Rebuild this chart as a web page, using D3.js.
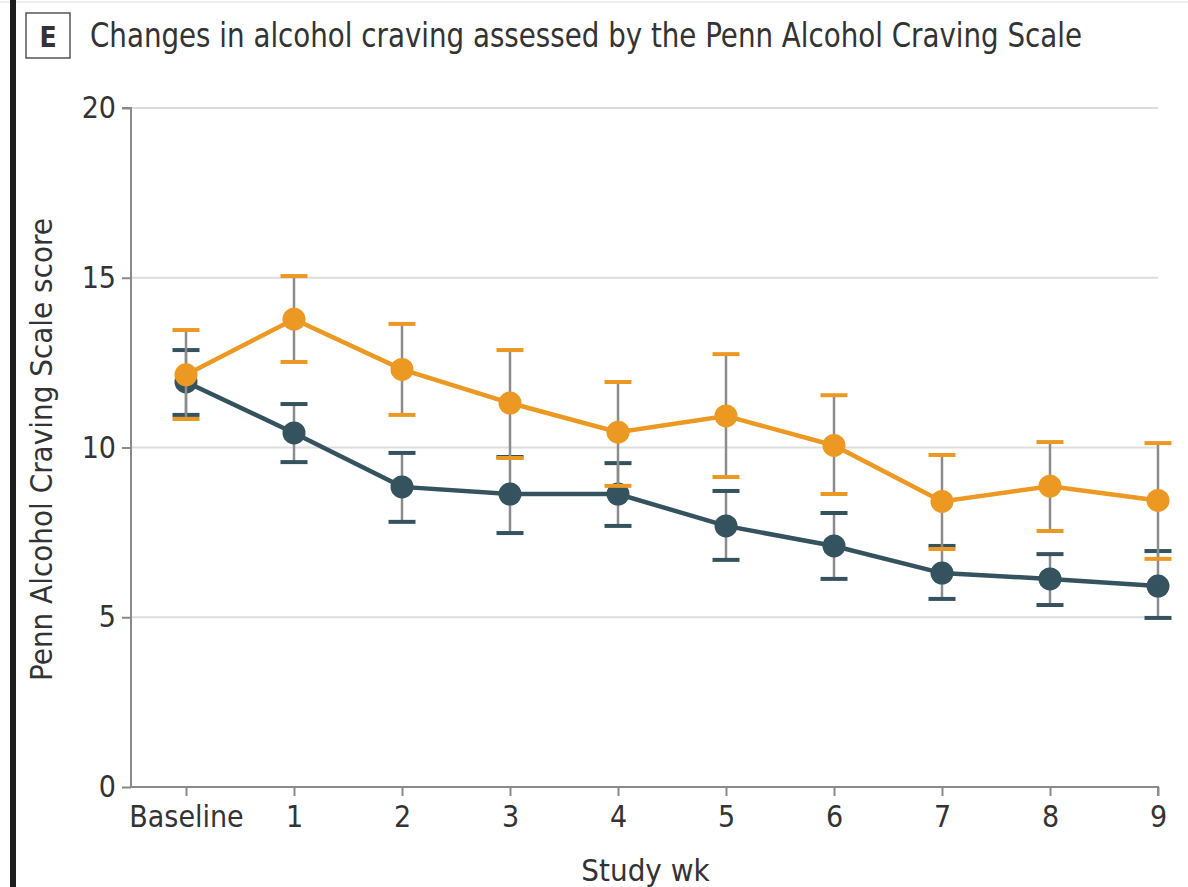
<!DOCTYPE html>
<html>
<head>
<meta charset="utf-8">
<script src="https://cdn.jsdelivr.net/npm/d3@7"></script>
<style>
  html, body { margin: 0; padding: 0; background: #fff; }
  svg text { font-family: "Liberation Sans Narrow", "DejaVu Sans Condensed", "Open Sans", sans-serif; fill: #333; }
</style>
</head>
<body>
<svg id="chart" width="1188" height="887"></svg>
<script>
// Study weeks on the x axis
const weeks = ["Baseline", "1", "2", "3", "4", "5", "6", "7", "8", "9"];

// Orange group: mean score and error bar limits
const orangeMean  = [12.14, 13.78, 12.30, 11.31, 10.45, 10.93, 10.06, 8.41, 8.86, 8.44];
const orangeUpper = [13.46, 15.05, 13.64, 12.87, 11.93, 12.75, 11.54, 9.78, 10.16, 10.13];
const orangeLower = [10.84, 12.52, 10.96, 9.69, 8.87, 9.13, 8.63, 7.01, 7.54, 6.72];

// Dark group: mean score and error bar limits
const darkMean  = [11.93, 10.43, 8.84, 8.63, 8.63, 7.69, 7.10, 6.30, 6.13, 5.92];
const darkUpper = [12.87, 11.28, 9.84, 9.72, 9.54, 8.72, 8.07, 7.10, 6.86, 6.95];
const darkLower = [10.96, 9.57, 7.81, 7.48, 7.69, 6.69, 6.13, 5.54, 5.36, 4.98];

const yTicks = [0, 5, 10, 15, 20];

const title = "Changes in alcohol craving assessed by the Penn Alcohol Craving Scale";
const panelLetter = "E";
const yLabel = "Penn Alcohol Craving Scale score";
const xLabel = "Study wk";

const svg = d3.select("#chart");

const plotLeft = 131, plotRight = 1158, plotTop = 108, plotBottom = 787;

const x = d3.scalePoint().domain(weeks).range([186, 1158]);
const y = d3.scaleLinear().domain([0, 20]).range([plotBottom, plotTop]);

// faint rule along the top and thick bar down the left edge
svg.append("line").attr("x1", 0).attr("x2", 1188).attr("y1", 2).attr("y2", 2)
  .attr("stroke", "#eeeeee").attr("stroke-width", 2);
svg.append("rect").attr("x", 10).attr("y", 0).attr("width", 6).attr("height", 887).attr("fill", "#1e1e1e");

// panel letter box and title
svg.append("rect").attr("x", 26).attr("y", 13).attr("width", 44).attr("height", 45)
  .attr("fill", "none").attr("stroke", "#555").attr("stroke-width", 1.5);
svg.append("text").attr("x", 48).attr("y", 47).attr("text-anchor", "middle")
  .attr("font-size", 28).attr("font-weight", "bold").text(panelLetter);
svg.append("text").attr("x", 90).attr("y", 47).attr("font-size", 33)
  .attr("textLength", 992).attr("lengthAdjust", "spacingAndGlyphs").text(title);

// horizontal gridlines
svg.append("g").selectAll("line").data(yTicks.filter(d => d > 0)).join("line")
  .attr("x1", plotLeft).attr("x2", plotRight)
  .attr("y1", d => y(d)).attr("y2", d => y(d))
  .attr("stroke", "#dddddd").attr("stroke-width", 2);

// y axis
const yAxis = svg.append("g").attr("transform", `translate(${plotLeft},0)`)
  .call(d3.axisLeft(y).tickValues(yTicks).tickSize(9).tickPadding(6));
yAxis.select(".domain").attr("stroke", "#8a8a8a").attr("stroke-width", 2)
  .attr("d", `M-9,${plotTop}H0V${plotBottom}`);
yAxis.selectAll(".tick line").attr("stroke", "#8a8a8a").attr("stroke-width", 2);
yAxis.selectAll(".tick text").attr("font-size", 30).attr("fill", "#333")
  .attr("font-family", "Liberation Sans Narrow, DejaVu Sans Condensed, sans-serif");

// x axis
const xAxis = svg.append("g").attr("transform", `translate(0,${plotBottom})`)
  .call(d3.axisBottom(x).tickSize(9).tickPadding(8));
xAxis.select(".domain").attr("stroke", "#8a8a8a").attr("stroke-width", 2)
  .attr("d", `M${plotLeft},0H${plotRight}V9`);
xAxis.selectAll(".tick line").attr("stroke", "#8a8a8a").attr("stroke-width", 2);
xAxis.selectAll(".tick text").attr("font-size", 30).attr("fill", "#333").attr("dy", "0.75em")
  .attr("font-family", "Liberation Sans Narrow, DejaVu Sans Condensed, sans-serif");

// axis titles
svg.append("text").attr("x", (plotLeft + plotRight) / 2 + 1).attr("y", 881)
  .attr("text-anchor", "middle").attr("font-size", 31).text(xLabel);
svg.append("text").attr("transform", `translate(52,${(plotTop + plotBottom) / 2 + 2}) rotate(-90)`)
  .attr("text-anchor", "middle").attr("font-size", 31).text(yLabel);

// one series: line, error bars, points
function drawSeries(mean, upper, lower, color) {
  const g = svg.append("g");
  const pts = weeks.map((w, i) => ({ w, m: mean[i], u: upper[i], l: lower[i] }));
  g.append("path").datum(pts)
    .attr("fill", "none").attr("stroke", color).attr("stroke-width", 4.5)
    .attr("d", d3.line().x(d => x(d.w)).y(d => y(d.m)));
  const eb = g.append("g").selectAll("g").data(pts).join("g");
  eb.append("line").attr("x1", d => x(d.w)).attr("x2", d => x(d.w))
    .attr("y1", d => y(d.u)).attr("y2", d => y(d.l))
    .attr("stroke", "#8c8c8c").attr("stroke-width", 2.5);
  const capW = 13.5;
  eb.append("line").attr("x1", d => x(d.w) - capW).attr("x2", d => x(d.w) + capW)
    .attr("y1", d => y(d.u)).attr("y2", d => y(d.u))
    .attr("stroke", color).attr("stroke-width", 4);
  eb.append("line").attr("x1", d => x(d.w) - capW).attr("x2", d => x(d.w) + capW)
    .attr("y1", d => y(d.l)).attr("y2", d => y(d.l))
    .attr("stroke", color).attr("stroke-width", 4);
  g.append("g").selectAll("circle").data(pts).join("circle")
    .attr("cx", d => x(d.w)).attr("cy", d => y(d.m)).attr("r", 11.5)
    .attr("fill", color);
}

drawSeries(darkMean, darkUpper, darkLower, "#35535e");
drawSeries(orangeMean, orangeUpper, orangeLower, "#eb9922");
</script>
</body>
</html>
